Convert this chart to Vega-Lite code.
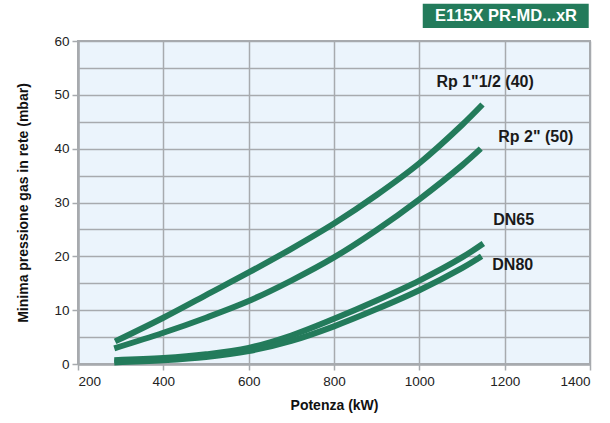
{
  "$schema": "https://vega.github.io/schema/vega-lite/v6.json",
  "width": 512,
  "height": 323,
  "autosize": {"type": "none"},
  "padding": {"left": 78, "top": 41, "right": 20, "bottom": 59},
  "background": "#ffffff",
  "config": {
    "font": "Liberation Sans",
    "view": {"fill": "#EBF4FC", "stroke": "#A7AAAE", "strokeWidth": 2},
    "axis": {
      "labelFont": "Liberation Sans",
      "titleFont": "Liberation Sans",
      "labelFontSize": 13.5,
      "labelColor": "#222222",
      "titleFontSize": 14,
      "titleFontWeight": "bold",
      "titleColor": "#111111",
      "gridColor": "#A7AAAE",
      "gridWidth": 1.5,
      "gridOpacity": 1,
      "domainColor": "#A7AAAE",
      "domainWidth": 2.5,
      "tickColor": "#A7AAAE",
      "tickWidth": 1.5,
      "tickSize": 6
    }
  },
  "datasets": {
    "curves": [
      {"serie": "Rp 1\"1/2 (40)", "kW": 287, "mbar": 4.2},
      {"serie": "Rp 1\"1/2 (40)", "kW": 400, "mbar": 8.6},
      {"serie": "Rp 1\"1/2 (40)", "kW": 500, "mbar": 12.8},
      {"serie": "Rp 1\"1/2 (40)", "kW": 600, "mbar": 17.0},
      {"serie": "Rp 1\"1/2 (40)", "kW": 700, "mbar": 21.4},
      {"serie": "Rp 1\"1/2 (40)", "kW": 800, "mbar": 26.1},
      {"serie": "Rp 1\"1/2 (40)", "kW": 900, "mbar": 31.4},
      {"serie": "Rp 1\"1/2 (40)", "kW": 1000, "mbar": 37.3},
      {"serie": "Rp 1\"1/2 (40)", "kW": 1100, "mbar": 44.4},
      {"serie": "Rp 1\"1/2 (40)", "kW": 1148, "mbar": 48.2},
      {"serie": "Rp 2\" (50)", "kW": 285, "mbar": 2.9},
      {"serie": "Rp 2\" (50)", "kW": 400, "mbar": 5.8},
      {"serie": "Rp 2\" (50)", "kW": 500, "mbar": 8.6},
      {"serie": "Rp 2\" (50)", "kW": 600, "mbar": 11.7},
      {"serie": "Rp 2\" (50)", "kW": 700, "mbar": 15.5},
      {"serie": "Rp 2\" (50)", "kW": 800, "mbar": 19.8},
      {"serie": "Rp 2\" (50)", "kW": 900, "mbar": 24.9},
      {"serie": "Rp 2\" (50)", "kW": 1000, "mbar": 30.6},
      {"serie": "Rp 2\" (50)", "kW": 1100, "mbar": 36.9},
      {"serie": "Rp 2\" (50)", "kW": 1144, "mbar": 40.0},
      {"serie": "DN65", "kW": 285, "mbar": 0.7},
      {"serie": "DN65", "kW": 400, "mbar": 1.1},
      {"serie": "DN65", "kW": 500, "mbar": 1.8},
      {"serie": "DN65", "kW": 600, "mbar": 3.0},
      {"serie": "DN65", "kW": 700, "mbar": 5.3},
      {"serie": "DN65", "kW": 800, "mbar": 8.4},
      {"serie": "DN65", "kW": 900, "mbar": 11.8},
      {"serie": "DN65", "kW": 1000, "mbar": 15.5},
      {"serie": "DN65", "kW": 1100, "mbar": 19.8},
      {"serie": "DN65", "kW": 1150, "mbar": 22.4},
      {"serie": "DN80", "kW": 285, "mbar": 0.3},
      {"serie": "DN80", "kW": 400, "mbar": 0.7},
      {"serie": "DN80", "kW": 500, "mbar": 1.3},
      {"serie": "DN80", "kW": 600, "mbar": 2.4},
      {"serie": "DN80", "kW": 700, "mbar": 4.3},
      {"serie": "DN80", "kW": 800, "mbar": 7.0},
      {"serie": "DN80", "kW": 900, "mbar": 10.2},
      {"serie": "DN80", "kW": 1000, "mbar": 13.7},
      {"serie": "DN80", "kW": 1100, "mbar": 17.8},
      {"serie": "DN80", "kW": 1146, "mbar": 20.0}
    ],
    "labels": [
      {"serie": "Rp 1\"1/2 (40)", "kW": 1040, "mbar": 52.3},
      {"serie": "Rp 2\" (50)", "kW": 1185, "mbar": 42.2},
      {"serie": "DN65", "kW": 1173, "mbar": 26.7},
      {"serie": "DN80", "kW": 1171, "mbar": 18.3}
    ],
    "badge": [
      {"text": "E115X PR-MD...xR", "kW0": 1008, "kW1": 1397, "m0": 62.4, "m1": 66.9, "kWc": 1203, "mc": 64.6}
    ]
  },
  "layer": [
    {
      "data": {"name": "curves"},
      "mark": {"type": "line", "interpolate": "catmull-rom", "strokeWidth": 6, "strokeCap": "butt", "color": "#237B5B"},
      "encoding": {
        "x": {
          "field": "kW", "type": "quantitative",
          "scale": {"domain": [200, 1400], "nice": false, "zero": false},
          "axis": {"title": "Potenza (kW)", "values": [200, 400, 600, 800, 1000, 1200, 1400], "format": "d", "grid": true, "labelPadding": 4, "titlePadding": 11}
        },
        "y": {
          "field": "mbar", "type": "quantitative",
          "scale": {"domain": [0, 60], "nice": false},
          "axis": {"title": "Minima pressione gas in rete (mbar)", "values": [0, 5, 10, 15, 20, 25, 30, 35, 40, 45, 50, 55, 60], "grid": true, "labelOverlap": false, "labelExpr": "datum.value % 10 === 0 ? datum.label : ''", "tickSize": {"condition": {"test": "datum.value % 10 === 0", "value": 6}, "value": 0}, "labelPadding": 3, "titlePadding": 23}
        },
        "detail": {"field": "serie", "type": "nominal"}
      }
    },
    {
      "data": {"name": "labels"},
      "mark": {"type": "text", "align": "left", "baseline": "middle", "fontSize": 16, "fontWeight": "bold", "color": "#1a1a1a", "font": "Liberation Sans"},
      "encoding": {
        "x": {
          "field": "kW", "type": "quantitative",
          "axis": {"title": "Potenza (kW)", "values": [200, 400, 600, 800, 1000, 1200, 1400], "format": "d", "grid": true, "labelPadding": 4, "titlePadding": 11}
        },
        "y": {
          "field": "mbar", "type": "quantitative",
          "axis": {"title": "Minima pressione gas in rete (mbar)", "values": [0, 5, 10, 15, 20, 25, 30, 35, 40, 45, 50, 55, 60], "grid": true, "labelOverlap": false, "labelExpr": "datum.value % 10 === 0 ? datum.label : ''", "tickSize": {"condition": {"test": "datum.value % 10 === 0", "value": 6}, "value": 0}, "labelPadding": 3, "titlePadding": 23}
        },
        "text": {"field": "serie"}
      }
    },
    {
      "data": {"name": "badge"},
      "mark": {"type": "rect", "color": "#237B5B", "clip": false},
      "encoding": {
        "x": {
          "field": "kW0", "type": "quantitative",
          "axis": {"title": "Potenza (kW)", "values": [200, 400, 600, 800, 1000, 1200, 1400], "format": "d", "grid": true, "labelPadding": 4, "titlePadding": 11}
        },
        "x2": {"field": "kW1"},
        "y": {
          "field": "m0", "type": "quantitative",
          "axis": {"title": "Minima pressione gas in rete (mbar)", "values": [0, 5, 10, 15, 20, 25, 30, 35, 40, 45, 50, 55, 60], "grid": true, "labelOverlap": false, "labelExpr": "datum.value % 10 === 0 ? datum.label : ''", "tickSize": {"condition": {"test": "datum.value % 10 === 0", "value": 6}, "value": 0}, "labelPadding": 3, "titlePadding": 23}
        },
        "y2": {"field": "m1"}
      }
    },
    {
      "data": {"name": "badge"},
      "mark": {"type": "text", "align": "center", "baseline": "middle", "fontSize": 16.5, "fontWeight": "bold", "color": "#ffffff", "font": "Liberation Sans"},
      "encoding": {
        "x": {
          "field": "kWc", "type": "quantitative",
          "axis": {"title": "Potenza (kW)", "values": [200, 400, 600, 800, 1000, 1200, 1400], "format": "d", "grid": true, "labelPadding": 4, "titlePadding": 11}
        },
        "y": {
          "field": "mc", "type": "quantitative",
          "axis": {"title": "Minima pressione gas in rete (mbar)", "values": [0, 5, 10, 15, 20, 25, 30, 35, 40, 45, 50, 55, 60], "grid": true, "labelOverlap": false, "labelExpr": "datum.value % 10 === 0 ? datum.label : ''", "tickSize": {"condition": {"test": "datum.value % 10 === 0", "value": 6}, "value": 0}, "labelPadding": 3, "titlePadding": 23}
        },
        "text": {"field": "text"}
      }
    }
  ]
}
